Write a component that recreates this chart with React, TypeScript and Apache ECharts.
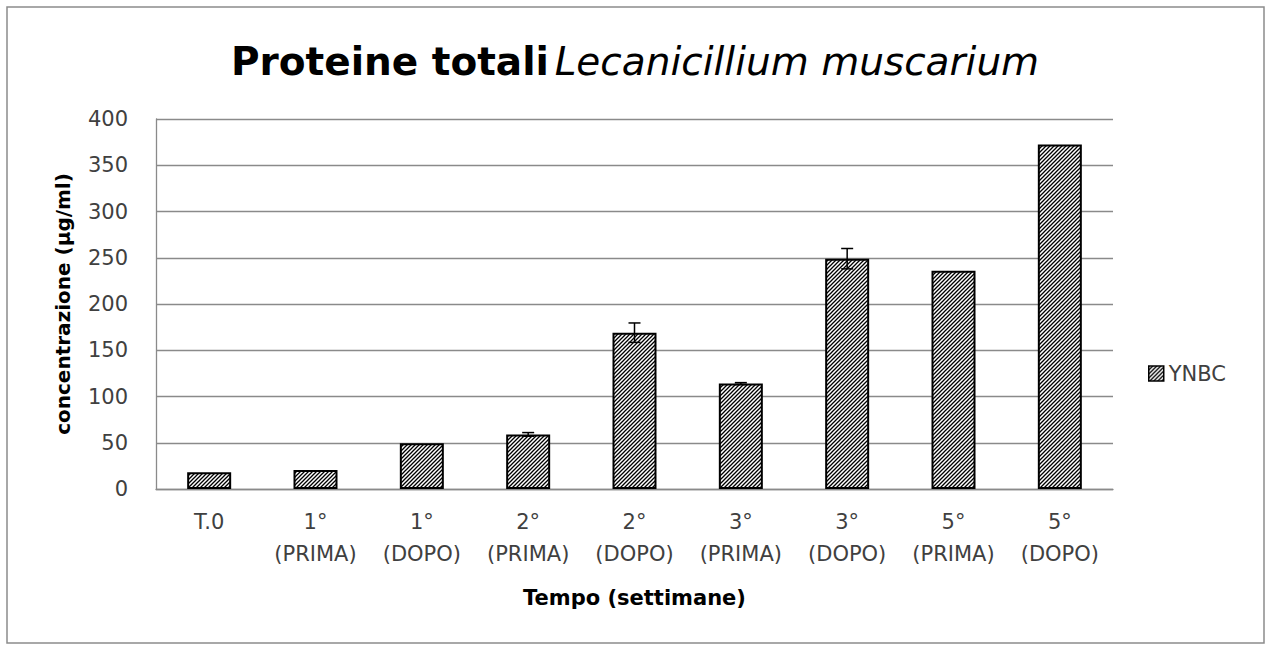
import React, { useEffect, useRef } from "react";
import * as echarts from "echarts";

const categories = [
  "T.0",
  "1°\n(PRIMA)",
  "1°\n(DOPO)",
  "2°\n(PRIMA)",
  "2°\n(DOPO)",
  "3°\n(PRIMA)",
  "3°\n(DOPO)",
  "5°\n(PRIMA)",
  "5°\n(DOPO)",
];
const values = [18, 20.5, 49.5, 59, 169, 114, 249, 236, 372.5];
const errors = [0, 0, 0, 2, 10.5, 1, 11, 0, 0];
const seriesName = "YNBC";
const yTicks = { min: 0, max: 400, interval: 50 };

function makeHatch(): HTMLCanvasElement {
  const c = document.createElement("canvas");
  const s = 4;
  c.width = s;
  c.height = s;
  const ctx = c.getContext("2d")!;
  ctx.fillStyle = "#ffffff";
  ctx.fillRect(0, 0, s, s);
  ctx.strokeStyle = "#000000";
  ctx.lineWidth = 1.3;
  ctx.beginPath();
  ctx.moveTo(-1, s + 1);
  ctx.lineTo(s + 1, -1);
  ctx.moveTo(-1, 1);
  ctx.lineTo(1, -1);
  ctx.moveTo(s - 1, s + 1);
  ctx.lineTo(s + 1, s - 1);
  ctx.stroke();
  return c;
}

export default function App() {
  const ref = useRef<HTMLDivElement>(null);
  useEffect(() => {
    if (!ref.current) return;
    const chart = echarts.init(ref.current, null, { renderer: "svg" });
    const hatch = { image: makeHatch(), repeat: "repeat" } as any;
    const font = "DejaVu Sans";
    const errData = values
      .map((v, i) => [i, v - errors[i], v + errors[i], errors[i]])
      .filter((d) => d[3] > 0);
    chart.setOption({
      animation: false,
      backgroundColor: "#ffffff",
      textStyle: { fontFamily: font },
      title: {
        left: "center",
        top: 37,
        text: "{b|Proteine totali} {i|Lecanicillium muscarium}",
        textStyle: {
          fontWeight: "normal",
          rich: {
            b: { fontFamily: font, fontSize: 39, fontWeight: "bold", color: "#000" },
            i: { fontFamily: font, fontSize: 39, fontStyle: "italic", fontWeight: "normal", color: "#000" },
          },
        },
      },
      legend: {
        orient: "vertical",
        left: 1143,
        top: 358,
        itemWidth: 15,
        itemHeight: 15,
        itemGap: 8,
        icon: "rect",
        data: [seriesName],
        textStyle: { fontFamily: font, fontSize: 21, color: "#404040" },
        itemStyle: { color: hatch, borderColor: "#000", borderWidth: 1.5 },
      },
      grid: { left: 156, right: 157, top: 119, bottom: 157 },
      xAxis: {
        type: "category",
        data: categories,
        name: "Tempo (settimane)",
        nameLocation: "middle",
        nameGap: 109,
        nameTextStyle: {
          fontFamily: font,
          fontSize: 21,
          fontWeight: "bold",
          color: "#000",
          verticalAlign: "middle",
        },
        axisLine: { show: true, lineStyle: { color: "#8a8a8a", width: 1.3 } },
        axisTick: { show: false },
        axisLabel: {
          fontFamily: font,
          fontSize: 21,
          color: "#404040",
          lineHeight: 32,
          margin: 17,
          interval: 0,
        },
      },
      yAxis: {
        type: "value",
        min: yTicks.min,
        max: yTicks.max,
        interval: yTicks.interval,
        name: "concentrazione (µg/ml)",
        nameLocation: "middle",
        nameGap: 93,
        nameRotate: 90,
        nameTextStyle: {
          fontFamily: font,
          fontSize: 20,
          fontWeight: "bold",
          color: "#000",
          verticalAlign: "middle",
        },
        axisLine: { show: true, lineStyle: { color: "#8a8a8a", width: 1.3 } },
        axisTick: { show: false },
        splitLine: { show: true, lineStyle: { color: "#8a8a8a", width: 1.3 } },
        axisLabel: { fontFamily: font, fontSize: 21, color: "#404040", margin: 28 },
      },
      series: [
        {
          name: seriesName,
          type: "bar",
          data: values,
          barWidth: 44,
          itemStyle: { color: hatch, borderColor: "#000", borderWidth: 2 },
          z: 2,
        },
        {
          type: "custom",
          name: "err",
          data: errData,
          z: 5,
          renderItem: (params: any, api: any) => {
            const x = api.value(0);
            const lo = api.coord([x, api.value(1)]);
            const hi = api.coord([x, api.value(2)]);
            const hw = 6;
            const style = { stroke: "#000", lineWidth: 1.5 };
            return {
              type: "group",
              children: [
                { type: "line", shape: { x1: lo[0], y1: lo[1], x2: hi[0], y2: hi[1] }, style },
                { type: "line", shape: { x1: hi[0] - hw, y1: hi[1], x2: hi[0] + hw, y2: hi[1] }, style },
                { type: "line", shape: { x1: lo[0] - hw, y1: lo[1], x2: lo[0] + hw, y2: lo[1] }, style },
              ],
            };
          },
        },
      ],
      graphic: [
        {
          type: "rect",
          shape: { x: 7, y: 7, width: 1257, height: 636 },
          style: { fill: "none", stroke: "#8c8c8c", lineWidth: 1.5 },
          silent: true,
        },
      ],
    });
    return () => chart.dispose();
  }, []);
  return (
    <div
      ref={ref}
      style={{ position: "absolute", left: 0, top: 0, width: 1270, height: 646 }}
    />
  );
}
